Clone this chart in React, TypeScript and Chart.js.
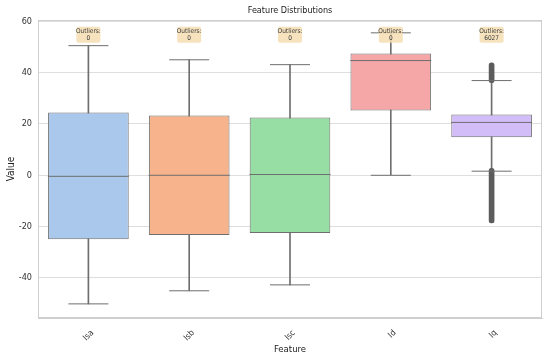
import React, { useEffect, useRef } from "react";
import { Chart, registerables } from "chart.js";

Chart.register(...registerables);

const categories = ["Isa", "Isb", "Isc", "Id", "Iq"];
const whiskerLow = [-50.1, -45.0, -42.7, 0.0, 1.6];
const q1 = [-24.9, -23.3, -22.5, 25.2, 14.8];
const median = [-0.4, 0.0, 0.3, 44.7, 20.6];
const q3 = [24.5, 23.3, 22.5, 47.4, 23.7];
const whiskerHigh = [50.5, 45.0, 43.1, 55.5, 36.9];
const upperOutlierRange: ([number, number] | null)[] = [null, null, null, null, [36.1, 43.8]];
const lowerOutlierRange: ([number, number] | null)[] = [null, null, null, null, [-18.6, 2.7]];
const outlierCounts = [0, 0, 0, 0, 6027];
const yTicks = [-40, -20, 0, 20, 40, 60];

const boxColors = ["#a9c8ec", "#f7b38c", "#97dea5", "#f5a6a6", "#d3bdf9"];
const lineColor = "#6e6e6e";
const FONT = '"DejaVu Sans Condensed", "DejaVu Sans", sans-serif';

export default function App() {
  const ref = useRef<HTMLCanvasElement | null>(null);

  useEffect(() => {
    document.body.style.margin = "0";
    const canvas = ref.current;
    if (!canvas) return;

    const framePlugin = {
      id: "frame",
      beforeDatasetsDraw(chart: any) {
        const { ctx, chartArea } = chart;
        ctx.save();
        ctx.strokeStyle = "#cfcfcf";
        ctx.lineWidth = 1;
        ctx.strokeRect(
          Math.round(chartArea.left) + 0.5,
          Math.round(chartArea.top) + 0.5,
          Math.round(chartArea.right - chartArea.left) - 1,
          Math.round(chartArea.bottom - chartArea.top) - 1
        );
        ctx.restore();
      },
    };

    const annotationPlugin = {
      id: "outlierNotes",
      afterDatasetsDraw(chart: any) {
        const { ctx } = chart;
        const xs = chart.scales.x;
        const ys = chart.scales.y;
        ctx.save();
        outlierCounts.forEach((count, i) => {
          const cx = xs.getPixelForValue(i);
          const cy = ys.getPixelForValue(54.8);
          const w = 24;
          const h = 16;
          ctx.fillStyle = "rgba(245,222,179,0.85)";
          ctx.beginPath();
          if ((ctx as any).roundRect) (ctx as any).roundRect(cx - w / 2, cy - h / 2, w, h, 2);
          else ctx.rect(cx - w / 2, cy - h / 2, w, h);
          ctx.fill();
          ctx.fillStyle = "#3a3a3a";
          ctx.font = `6.5px ${FONT}`;
          ctx.textAlign = "center";
          ctx.textBaseline = "middle";
          ctx.fillText("Outliers:", cx, cy - 3.6);
          ctx.fillText(String(count), cx, cy + 3.6);
        });
        ctx.restore();
      },
    };

    const chart = new Chart(canvas, {
      data: {
        labels: categories,
        datasets: [
          {
            type: "line",
            label: "median",
            data: median,
            showLine: false,
            pointStyle: "line",
            pointRadius: 40.5,
            pointHoverRadius: 40.5,
            pointBorderColor: lineColor,
            pointBorderWidth: 1,
            clip: false,
          } as any,
          {
            type: "line",
            label: "capHigh",
            data: whiskerHigh,
            showLine: false,
            pointStyle: "line",
            pointRadius: 20,
            pointHoverRadius: 20,
            pointBorderColor: lineColor,
            pointBorderWidth: 1,
          } as any,
          {
            type: "line",
            label: "capLow",
            data: whiskerLow,
            showLine: false,
            pointStyle: "line",
            pointRadius: 20,
            pointHoverRadius: 20,
            pointBorderColor: lineColor,
            pointBorderWidth: 1,
          } as any,
          {
            type: "bar",
            label: "upperOutliers",
            data: upperOutlierRange as any,
            grouped: false,
            barThickness: 5,
            borderRadius: 3,
            borderSkipped: false,
            backgroundColor: "#5c5c5c",
          } as any,
          {
            type: "bar",
            label: "lowerOutliers",
            data: lowerOutlierRange as any,
            grouped: false,
            barThickness: 5,
            borderRadius: 3,
            borderSkipped: false,
            backgroundColor: "#5c5c5c",
          } as any,
          {
            type: "bar",
            label: "box",
            data: q1.map((v, i) => [v, q3[i]]) as any,
            grouped: false,
            barPercentage: 0.8,
            categoryPercentage: 1,
            backgroundColor: boxColors,
            borderColor: lineColor,
            borderWidth: 1,
            borderSkipped: false,
          } as any,
          {
            type: "bar",
            label: "whisker",
            data: whiskerLow.map((v, i) => [v, whiskerHigh[i]]) as any,
            grouped: false,
            barThickness: 1,
            backgroundColor: lineColor,
          } as any,
        ],
      },
      options: {
        animation: false,
        responsive: true,
        maintainAspectRatio: false,
        layout: { autoPadding: false, padding: { left: 0, right: 8, top: 0, bottom: 0 } },
        plugins: {
          legend: { display: false },
          tooltip: { enabled: false },
          title: {
            display: true,
            text: "Feature Distributions",
            fullSize: false,
            color: "#222",
            font: { family: FONT, size: 9, weight: "normal" },
            padding: { top: 5, bottom: 4.2 },
          },
        },
        scales: {
          x: {
            type: "category",
            offset: true,
            grid: { display: false, drawTicks: false },
            border: { display: true, color: "#cfcfcf" },
            ticks: {
              color: "#333",
              font: { family: FONT, size: 8.5 },
              minRotation: 45,
              maxRotation: 45,
              padding: 10,
              labelOffset: 4,
            },
            title: {
              display: true,
              text: "Feature",
              color: "#222",
              font: { family: FONT, size: 9.5 },
              padding: { top: 2, bottom: 6 },
            },
            afterFit(scale: any) {
              scale.height = 43;
            },
          },
          y: {
            type: "linear",
            min: -55.6,
            max: 60.5,
            grid: { color: "#dedede", drawTicks: false },
            border: { display: true, color: "#cfcfcf" },
            afterBuildTicks(scale: any) {
              scale.ticks = yTicks.map((v) => ({ value: v }));
            },
            ticks: {
              color: "#333",
              font: { family: FONT, size: 9 },
              padding: 6,
            },
            title: {
              display: true,
              text: "Value",
              color: "#222",
              font: { family: FONT, size: 10 },
              padding: { top: 5, bottom: 4 },
            },
            afterFit(scale: any) {
              scale.width = 38;
            },
          },
        },
      },
      plugins: [framePlugin, annotationPlugin],
    });

    return () => chart.destroy();
  }, []);

  return (
    <div style={{ width: 550, height: 361, position: "relative" }}>
      <canvas ref={ref} />
    </div>
  );
}
